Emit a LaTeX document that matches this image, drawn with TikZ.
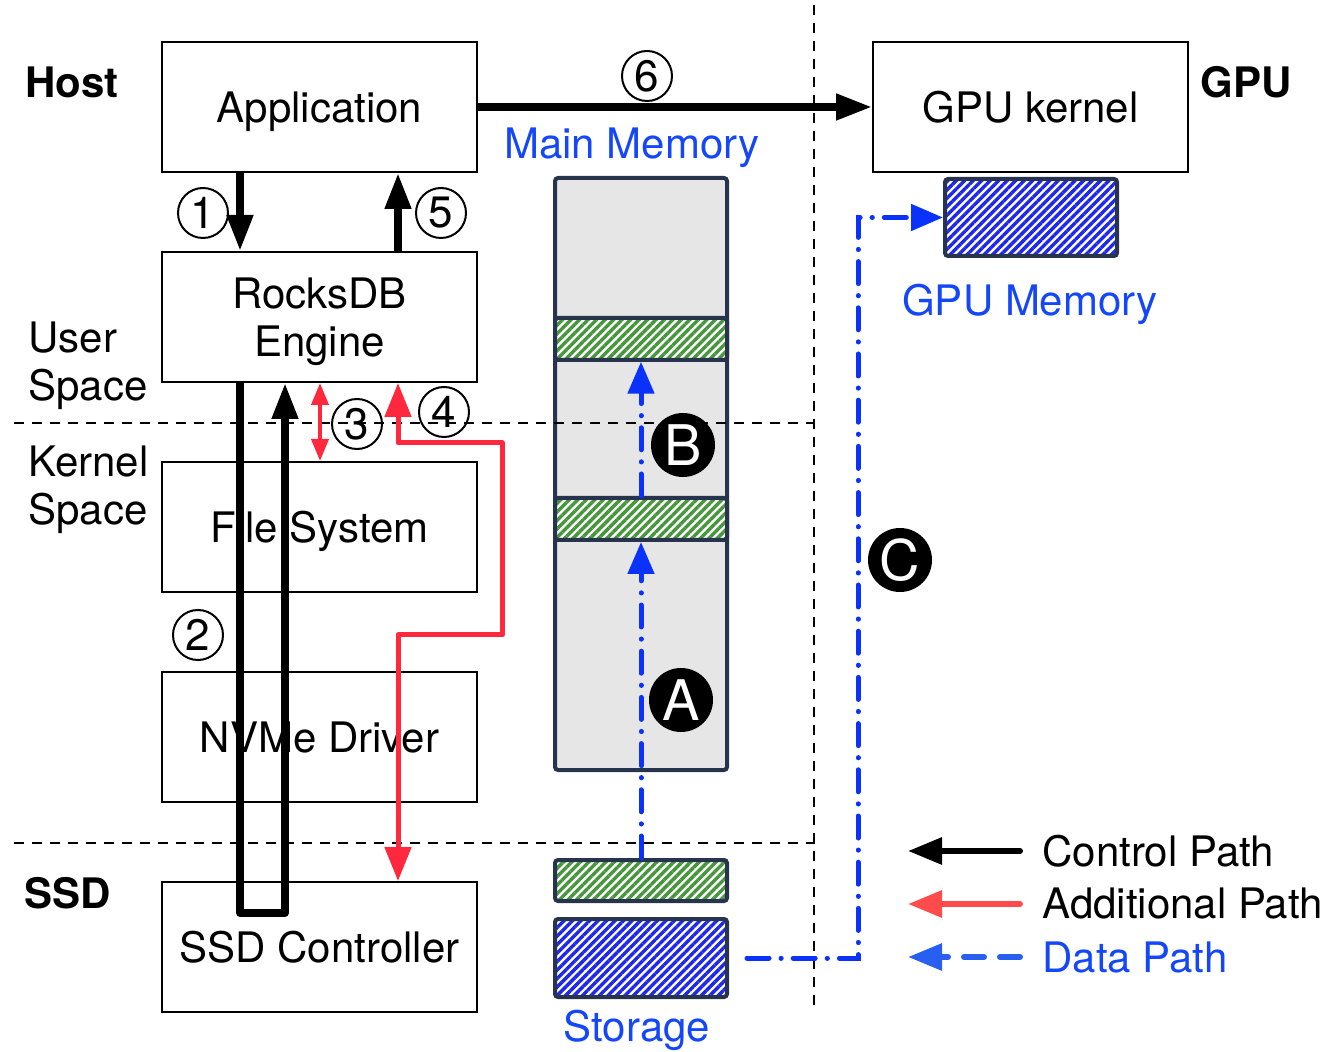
\documentclass[tikz,border=0pt]{standalone}
\usepackage{fontspec}
\setmainfont{TeX Gyre Heros}
\usetikzlibrary{arrows.meta,patterns.meta}
\usepackage{xcolor}
\definecolor{AddRed}{RGB}{255,40,60}
\definecolor{LegRed}{RGB}{255,75,75}
\definecolor{DataBlue}{RGB}{10,50,250}
\definecolor{LegBlue}{RGB}{40,95,240}
\definecolor{LabelBlue}{RGB}{20,70,250}
\definecolor{MemGray}{RGB}{230,230,230}
\definecolor{MemEdge}{RGB}{40,52,78}
\definecolor{HatchGreen}{RGB}{70,150,60}
\definecolor{HatchBlue}{RGB}{30,40,235}

\tikzset{
  layer/.style={draw, line width=1pt, minimum width=157.5pt, minimum height=65pt, align=center, text depth=0pt, font=\fontsize{21}{24}\selectfont},
  side/.style={inner sep=0pt, font=\fontsize{21}{24}\selectfont\bfseries},
  spacelabel/.style={inner sep=0pt, anchor=west, align=left, font=\fontsize{21}{24}\selectfont},
  bluetext/.style={text=LabelBlue, text depth=0pt, font=\fontsize{21}{24}\selectfont},
  legtext/.style={anchor=west, inner sep=0pt, font=\fontsize{21}{24}\selectfont},
  memcol/.style={draw=MemEdge, fill=MemGray, line width=2pt, rounded corners=1.5pt, minimum width=86pt, minimum height=296pt},
  greenband/.style={draw=MemEdge, line width=2pt, rounded corners=1.5pt, minimum width=86pt, minimum height=21pt, preaction={fill=white}, pattern={Lines[angle=45,distance=3pt,line width=1.7pt]}, pattern color=HatchGreen},
  blueband/.style={draw=MemEdge, line width=2pt, rounded corners=1.5pt, minimum width=86pt, preaction={fill=white}, pattern={Lines[angle=45,distance=3pt,line width=1.7pt]}, pattern color=HatchBlue},
  numc/.style={circle, draw, line width=1pt, minimum size=25pt, inner sep=0pt, font=\fontsize{22}{22}\selectfont},
  letc/.style={circle, fill=black, text=white, minimum size=32pt, inner sep=0pt, font=\fontsize{28}{28}\selectfont},
  sep/.style={line width=1pt, dash pattern=on 5pt off 4pt},
  ctrl/.style={line width=3.8pt, -{Triangle[width=12.5pt,length=18pt]}},
  addl/.style={AddRed, line width=2.5pt},
  data/.style={DataBlue, line width=2.5pt, line cap=round, dash pattern=on 11pt off 6pt on 0.1pt off 6pt, -{Triangle[width=13pt,length=16pt]}},
}

\begin{document}
\begin{tikzpicture}[x=0.5pt, y=-0.5pt]
\useasboundingbox (0,0) rectangle (1332,1052);

\node[layer] (app) at (319.5,107) {Application};
\node[layer] (gpuk) at (1030.5,107) {GPU kernel};
\node[layer] (rocks) at (319.5,317) {RocksDB\\Engine};
\node[layer] (fs) at (319.5,527) {File System};
\node[layer] (nvme) at (319.5,737) {NVMe Driver};
\node[layer] (ssdc) at (319.5,947) {SSD Controller};

\node[side] (host) at (72,82) {Host};
\node[side] (gpu) at (1246,82) {GPU};
\node[side] (ssd) at (68,893) {SSD};
\node[spacelabel] (user) at (28,366) {User\\Space};
\node[spacelabel] (kernel) at (28,490) {Kernel\\Space};

\node[memcol] (mem) at (641,474) {};
\node[greenband] (band1) at (641,339) {};
\node[greenband] (band2) at (641,519) {};
\node[greenband, minimum height=20.5pt] (sgreen) at (641,880.5) {};
\node[blueband, minimum height=39pt] (sblue) at (641,958) {};
\node[blueband, minimum height=38.5pt] (gpum) at (1031,217.5) {};
\node[bluetext] (mmlabel) at (632,143) {Main Memory};
\node[bluetext] (gmlabel) at (1030,300) {GPU Memory};
\node[bluetext] (stlabel) at (637,1026) {Storage};

\draw[sep] (14,423) -- (815,423);
\draw[sep] (14,843) -- (815,843);
\draw[sep] (814,5) -- (814,1005);

\draw[ctrl] (app.east) -- (gpuk.west);
\draw[ctrl] (app.south -| 240,0) -- (rocks.north -| 240,0);
\draw[ctrl] (rocks.north -| 398,0) -- (app.south -| 398,0);
\draw[ctrl, line join=round] (rocks.south -| 240,0) -- (240,913) -- (285,913) -- (rocks.south -| 285,0);

\draw[addl, line join=round, {Triangle[width=13pt,length=17pt]}-{Triangle[width=13pt,length=17pt]}] (rocks.south -| 398,0) -- (398,443) -- (502,443) -- (502,635) -- (398,635) -- (ssdc.north -| 398,0);
\draw[addl, line width=2pt, {Triangle[width=8.5pt,length=11pt]}-{Triangle[width=8.5pt,length=11pt]}] (rocks.south -| 320,0) -- (fs.north -| 320,0);

\draw[data] (sgreen.north) -- (band2.south);
\draw[data] (band2.north) -- (band1.south);
\draw[data] ([xshift=9pt]sblue.east) -- (858,958) -- (858,217.5) -- (gpum.west);

\node[numc] (n1) at (203,213) {1};
\node[numc] (n2) at (198,635) {2};
\node[numc] (n3) at (357,424) {3};
\node[numc] (n4) at (444,412) {4};
\node[numc] (n5) at (441,213) {5};
\node[numc] (n6) at (647,76) {6};

\node[letc] (la) at (681,700) {A};
\node[letc] (lb) at (683,445) {B};
\node[letc] (lc) at (900,560) {C};

\coordinate (lg1) at (1020,851);
\coordinate (lg1e) at (908,851);
\coordinate (lg2) at (1020,904);
\coordinate (lg2e) at (908,904);
\coordinate (lg3) at (1020,957);
\coordinate (lg3e) at (908,957);
\draw[line width=3pt, line cap=round, -{Triangle[width=13pt,length=17pt]}] (lg1) -- (lg1e);
\draw[LegRed, line width=3pt, line cap=round, -{Triangle[width=13pt,length=17pt]}] (lg2) -- (lg2e);
\draw[LegBlue, line width=3pt, line cap=round, dash pattern=on 10pt off 8pt, -{Triangle[width=13pt,length=17pt]}] (lg3) -- (lg3e);
\node[legtext] (legc) at (1042,851) {Control Path};
\node[legtext] (lega) at (1042,904) {Additional Path};
\node[legtext, text=LabelBlue] (legd) at (1042,957) {Data Path};
\end{tikzpicture}
\end{document}
